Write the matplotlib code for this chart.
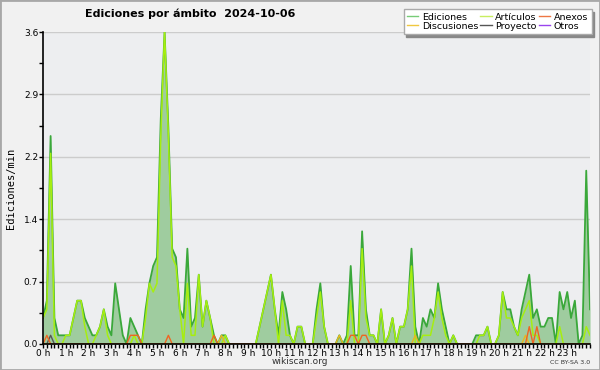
import numpy as np
import matplotlib.pyplot as plt
from matplotlib.lines import Line2D
from matplotlib.ticker import MultipleLocator, FixedLocator

# Datos: ediciones por minuto, intervalos de 10 minutos (0 h .. 24 h)
total = [0.3, 0.5, 2.4, 0.3, 0.1, 0.1, 0.1, 0.1, 0.3, 0.5, 0.5, 0.3, 0.2, 0.1, 0.1, 0.2, 0.4, 0.2, 0.1, 0.7,
         0.4, 0.1, 0.0, 0.3, 0.2, 0.1, 0.0, 0.4, 0.7, 0.9, 1.0, 2.6, 3.6, 2.5, 1.1, 1.0, 0.4, 0.3, 1.1, 0.2,
         0.3, 0.8, 0.2, 0.5, 0.3, 0.1, 0.0, 0.1, 0.1, 0.0, 0.0, 0.0, 0.0, 0.0, 0.0, 0.0, 0.0, 0.2, 0.4, 0.6,
         0.8, 0.4, 0.1, 0.6, 0.4, 0.1, 0.0, 0.2, 0.2, 0.0, 0.0, 0.0, 0.4, 0.7, 0.2, 0.0, 0.0, 0.0, 0.1, 0.0,
         0.1, 0.9, 0.1, 0.1, 1.3, 0.4, 0.1, 0.1, 0.0, 0.4, 0.0, 0.1, 0.3, 0.0, 0.2, 0.2, 0.4, 1.1, 0.2, 0.0,
         0.3, 0.2, 0.4, 0.3, 0.7, 0.4, 0.2, 0.0, 0.1, 0.0, 0.0, 0.0, 0.0, 0.0, 0.1, 0.1, 0.1, 0.2, 0.0, 0.0,
         0.1, 0.6, 0.4, 0.4, 0.2, 0.1, 0.4, 0.6, 0.8, 0.3, 0.4, 0.2, 0.2, 0.3, 0.3, 0.0, 0.6, 0.4, 0.6, 0.3,
         0.5, 0.0, 0.1, 2.0, 0.4]
articulos = [0.3, 0.4, 2.2, 0.1, 0.0, 0.0, 0.1, 0.1, 0.3, 0.5, 0.5, 0.2, 0.0, 0.0, 0.1, 0.2, 0.4, 0.1, 0.0, 0.0,
             0.0, 0.0, 0.0, 0.0, 0.1, 0.0, 0.0, 0.3, 0.7, 0.6, 0.7, 2.4, 3.6, 2.4, 1.0, 0.9, 0.4, 0.0, 0.7, 0.1,
             0.1, 0.8, 0.2, 0.5, 0.3, 0.0, 0.0, 0.0, 0.1, 0.0, 0.0, 0.0, 0.0, 0.0, 0.0, 0.0, 0.0, 0.2, 0.4, 0.6,
             0.8, 0.4, 0.0, 0.5, 0.1, 0.1, 0.0, 0.2, 0.2, 0.0, 0.0, 0.0, 0.3, 0.6, 0.2, 0.0, 0.0, 0.0, 0.0, 0.0,
             0.0, 0.5, 0.0, 0.0, 1.1, 0.3, 0.1, 0.1, 0.0, 0.4, 0.0, 0.1, 0.3, 0.0, 0.2, 0.2, 0.4, 0.9, 0.0, 0.0,
             0.1, 0.1, 0.1, 0.3, 0.6, 0.3, 0.1, 0.0, 0.1, 0.0, 0.0, 0.0, 0.0, 0.0, 0.0, 0.1, 0.1, 0.2, 0.0, 0.0,
             0.1, 0.6, 0.3, 0.3, 0.2, 0.1, 0.3, 0.4, 0.5, 0.1, 0.1, 0.0, 0.0, 0.0, 0.0, 0.0, 0.2, 0.0, 0.0, 0.0,
             0.0, 0.0, 0.0, 0.2, 0.1]
anexos = {1: 0.1, 23: 0.1, 24: 0.1, 25: 0.1, 33: 0.1, 45: 0.1, 81: 0.1, 82: 0.1, 84: 0.1, 85: 0.1,
          128: 0.2, 130: 0.2}
discusiones = {47: 0.1, 78: 0.1, 98: 0.1, 127: 0.1}
proyecto = {2: 0.1}

horas = np.arange(len(total)) / 6.0
etiquetas_x = [f"{h} h" for h in range(24)]


def serie(puntos):
    v = np.zeros(len(total))
    for k, val in puntos.items():
        v[k] = val
    return v


fig = plt.figure(figsize=(6, 3.7), dpi=100, facecolor='#f1f1f1')
fig.patches.append(plt.Rectangle((0, 0), 1, 1, transform=fig.transFigure, fill=False,
                                 edgecolor='#a8a8a8', linewidth=2))
ax = fig.add_axes([0.0717, 0.0703, 0.9117, 0.8432])
ax.set_facecolor('#edeef0')

ax.fill_between(horas, 0, total, color='#9fcc9f', linewidth=0)
ax.plot(horas, total, color='#3aa83a', linewidth=1.3)
ax.plot(horas, articulos, color='#a6ee10', linewidth=1.1)
ax.plot(horas, serie(proyecto), color='#555555', linewidth=1.0)
ax.plot(horas, serie(discusiones), color='#e8b820', linewidth=1.0)
ax.plot(horas, serie(anexos), color='#ee6622', linewidth=1.0)

ax.set_xlim(0, 24)
ax.set_ylim(0, 3.6)
ax.set_yticks([0, 0.72, 1.44, 2.16, 2.88, 3.6])
ax.set_yticklabels(['0.0', '0.7', '1.4', '2.2', '2.9', '3.6'])
ax.yaxis.set_minor_locator(MultipleLocator(0.36))
ax.xaxis.set_major_locator(FixedLocator(np.arange(24)))
ax.set_xticklabels(etiquetas_x)
ax.xaxis.set_minor_locator(MultipleLocator(1 / 6))
ax.grid(axis='y', color='#cccccc', linewidth=1)
ax.set_axisbelow(True)
for s in ['top', 'right']:
    ax.spines[s].set_visible(False)
for s in ['left', 'bottom']:
    ax.spines[s].set_linewidth(1.2)
    ax.spines[s].set_zorder(5)
ax.tick_params(axis='both', which='major', length=3, width=1, labelsize=6.5, pad=0.5, colors='black')
ax.tick_params(axis='both', which='minor', length=3, width=1)

fig.text(0.142, 0.962, 'Ediciones por ámbito  2024-10-06', fontsize=8, fontweight='bold', va='center')
fig.text(0.018, 0.49, 'Ediciones/min', rotation=90, fontsize=7.5, va='center', ha='center',
         family='DejaVu Sans Mono')
fig.text(0.5, 0.012, 'wikiscan.org', fontsize=6.5, ha='center', va='bottom', color='#333333')
fig.text(0.983, 0.014, 'CC BY-SA 3.0', fontsize=4.5, ha='right', va='bottom', color='#333333')

handles = [Line2D([], [], color='#77cc77', lw=1), Line2D([], [], color='#f0c840', lw=1),
           Line2D([], [], color='#c8ee60', lw=1), Line2D([], [], color='#555555', lw=1),
           Line2D([], [], color='#ee7744', lw=1), Line2D([], [], color='#9944ee', lw=1)]
nombres = ['Ediciones', 'Discusiones', 'Artículos', 'Proyecto', 'Anexos', 'Otros']
fig.legend(handles, nombres, ncol=3, loc='upper right', bbox_to_anchor=(0.986, 0.975),
           fontsize=6.8, frameon=True, fancybox=False, edgecolor='#aaaaaa',
           shadow={'color': '#888888', 'alpha': 1}, handlelength=1.2, handletextpad=0.4,
           columnspacing=0.2, labelspacing=0.0, borderpad=0.35, borderaxespad=0)

fig.savefig('out.png', dpi=100, facecolor=fig.get_facecolor())
